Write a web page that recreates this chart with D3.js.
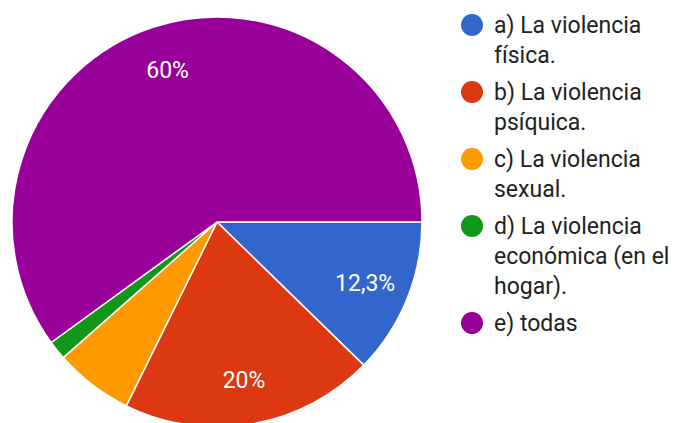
<!DOCTYPE html>
<html>
<head>
<meta charset="utf-8">
<script src="https://cdn.jsdelivr.net/npm/d3@7"></script>
<style>
  html, body { margin: 0; padding: 0; background: #fff; }
  svg { display: block; }
</style>
</head>
<body>
<svg id="chart" width="673" height="423"></svg>
<script>
const categories = [
  "a) La violencia física.",
  "b) La violencia psíquica.",
  "c) La violencia sexual.",
  "d) La violencia económica (en el hogar).",
  "e) todas"
];
const values = [12.3, 20, 6.2, 1.5, 60];
const valueLabels = ["12,3%", "20%", "", "", "60%"];
const colors = ["#3366cc", "#dc3912", "#ff9900", "#109618", "#990099"];

const svg = d3.select("#chart");
const W = 673, H = 423;
const cx = 217, cy = 222, R = 205;

const data = categories.map((c, i) => ({ cat: c, value: values[i], label: valueLabels[i], color: colors[i] }));

const pie = d3.pie().value(d => d.value).sort(null)
  .startAngle(Math.PI / 2).endAngle(Math.PI / 2 + 2 * Math.PI);
const arcs = pie(data);
const arc = d3.arc().innerRadius(0).outerRadius(R);
const labelArc = d3.arc().innerRadius(R * 0.78).outerRadius(R * 0.78);

const g = svg.append("g").attr("transform", `translate(${cx},${cy})`);
g.selectAll("path.slice").data(arcs).enter().append("path")
  .attr("class", "slice")
  .attr("d", arc)
  .attr("fill", d => d.data.color)
  .attr("stroke", "#fff")
  .attr("stroke-width", 1.5)
  .attr("stroke-linejoin", "round");

g.selectAll("text.pl").data(arcs.filter(d => d.data.label)).enter().append("text")
  .attr("class", "pl")
  .attr("transform", d => `translate(${labelArc.centroid(d)})`)
  .attr("text-anchor", "middle")
  .attr("dy", "0.36em")
  .attr("font-family", "Roboto, sans-serif")
  .attr("font-size", 23)
  .attr("fill", "#ffffff")
  .text(d => d.data.label);

// Legend
const legX = 472, textX = 494, lineH = 30, itemGap = 37, maxW = 186;
const leg = svg.append("g");
let y = 25;
data.forEach((d, i) => {
  leg.append("circle").attr("cx", legX).attr("cy", y).attr("r", 11).attr("fill", d.color);
  const t = leg.append("text")
    .attr("font-family", "Roboto, sans-serif")
    .attr("font-size", 23)
    .attr("fill", "#222222");
  const words = d.cat.split(" ");
  let lines = [], cur = "";
  const probe = leg.append("text").attr("font-family", "Roboto, sans-serif").attr("font-size", 23);
  words.forEach(w => {
    const test = cur ? cur + " " + w : w;
    probe.text(test);
    if (probe.node().getComputedTextLength() > maxW && cur) { lines.push(cur); cur = w; }
    else cur = test;
  });
  lines.push(cur);
  probe.remove();
  lines.forEach((ln, j) => {
    t.append("tspan").attr("x", textX).attr("y", y + j * lineH).attr("dy", "0.36em").text(ln);
  });
  y += (lines.length - 1) * lineH + itemGap;
});
</script>
</body>
</html>
